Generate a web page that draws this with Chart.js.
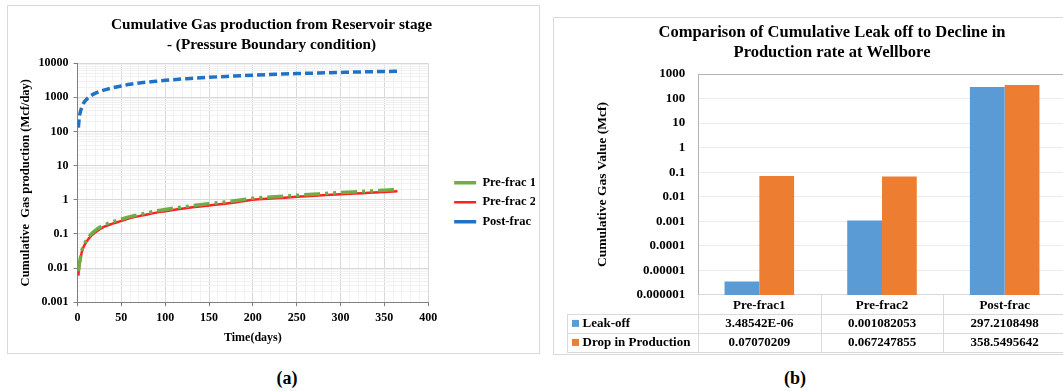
<!DOCTYPE html>
<html>
<head>
<meta charset="utf-8">
<script src="https://cdn.jsdelivr.net/npm/chart.js@4.4.0/dist/chart.umd.min.js"></script>
<style>
    html, body { margin: 0; padding: 0; background: #fff; width: 1063px; height: 391px; overflow: hidden; }
    .panel { position: absolute; box-sizing: border-box; border: 1px solid #d9d9d9; }
    canvas { position: absolute; }
    .caption { position: absolute; top: 367px; width: 100px; text-align: center;
               font: bold 18px "Liberation Serif", serif; line-height: 22px; }
</style>
</head>
<body>
<div class="panel" style="left:7px;top:5px;width:533px;height:349px"></div>
<canvas id="chartA" width="543" height="347" style="left:8px;top:6px"></canvas>
<div class="panel" style="left:553px;top:17px;width:558px;height:338px"></div>
<canvas id="chartB" width="556" height="336" style="left:554px;top:18px"></canvas>
<div class="caption" style="left:237px">(a)</div>
<div class="caption" style="left:745px">(b)</div>

<script>
// (a) cumulative gas production, Mcf/day
const days = [1, 2, 3, 5, 7, 10, 15, 20, 30, 40, 50, 60, 75, 90, 100, 125, 150, 175, 200, 225, 250, 275, 300, 325, 350, 365];
const preFrac1 = [0.008, 0.013, 0.018, 0.033, 0.046, 0.064, 0.095, 0.125, 0.18, 0.225, 0.27, 0.32, 0.39, 0.47, 0.52,
                  0.64, 0.77, 0.9, 1.1, 1.22, 1.35, 1.48, 1.62, 1.75, 1.9, 1.98];
const preFrac2 = [0.006, 0.011, 0.016, 0.03, 0.042, 0.058, 0.085, 0.11, 0.16, 0.2, 0.24, 0.29, 0.35, 0.42, 0.46,
                  0.57, 0.68, 0.8, 1.0, 1.1, 1.22, 1.33, 1.45, 1.56, 1.68, 1.77];
const postFrac = [130, 250, 350, 520, 680, 850, 1100, 1300, 1620, 1900, 2150, 2400, 2700, 2950, 3150,
                  3500, 3850, 4150, 4450, 4700, 4950, 5150, 5350, 5550, 5700, 5800];
const yTickValuesA = [0.001, 0.01, 0.1, 1, 10, 100, 1000, 10000];
const yTickLabelsA = ['0.001', '0.01', '0.1', '1', '10', '100', '1000', '10000'];

// (b) leak off vs drop in production, Mcf
const stages = ['Pre-frac1', 'Pre-frac2', 'Post-frac'];
const leakOff = [3.48542e-6, 0.001082053, 297.2108498];
const dropInProduction = [0.07070209, 0.067247855, 358.5495642];
const yTickValuesB = [1e-6, 1e-5, 1e-4, 1e-3, 0.01, 0.1, 1, 10, 100, 1000];
const yTickLabelsB = ['0.000001', '0.00001', '0.0001', '0.001', '0.01', '0.1', '1', '10', '100', '1000'];

const serif = '"Liberation Serif", "Times New Roman", serif';
Chart.defaults.font.family = serif;
Chart.defaults.font.weight = 'bold';
Chart.defaults.color = '#000';

const toPoints = (ys) => ys.map((y, i) => ({x: days[i], y: y}));

// empty right-hand axis, used only to open a gap before the legend / edge
const spacer = (w) => ({
    position: 'right',
    ticks: {display: false},
    grid: {display: false},
    border: {display: false},
    afterFit: (scale) => { scale.width = w; }
});

new Chart(document.getElementById('chartA'), {
    type: 'line',
    data: {
        datasets: [
            {label: 'Pre-frac 1', data: toPoints(preFrac1), borderColor: '#70AD47', borderWidth: 3.5, borderDash: [16, 5, 3, 5, 3, 5]},
            {label: 'Pre-frac 2', data: toPoints(preFrac2), borderColor: '#FF2222', borderWidth: 2.5},
            {label: 'Post-frac', data: toPoints(postFrac), borderColor: '#2272C3', borderWidth: 3.5, borderDash: [8, 4]}
        ]
    },
    options: {
        responsive: false,
        animation: false,
        elements: {point: {radius: 0}, line: {cubicInterpolationMode: 'monotone'}},
        layout: {padding: {left: 0, right: 16, top: 0, bottom: 4}},
        plugins: {
            tooltip: {enabled: false},
            title: {
                display: true,
                text: ['Cumulative Gas production from Reservoir stage', '- (Pressure Boundary condition)'],
                font: {size: 15.25, lineHeight: 1.333},
                padding: {top: 8.5, bottom: 8}
            },
            legend: {
                position: 'right',
                align: 'start',
                title: {display: true, text: '', padding: {top: 149, bottom: 0}},
                labels: {
                    usePointStyle: true,
                    pointStyle: 'line',
                    pointStyleWidth: 22,
                    padding: 7,
                    font: {size: 12.5},
                    generateLabels: (chart) => Chart.defaults.plugins.legend.labels.generateLabels(chart)
                        .map((item, i) => i === 0 ? {...item, lineDash: []} : item)
                }
            }
        },
        scales: {
            x: {
                type: 'linear',
                min: 0,
                max: 400,
                ticks: {stepSize: 10, autoSkip: false, maxRotation: 0, padding: 5, font: {size: 12},
                        callback: (v) => v % 50 === 0 ? String(v) : ''},
                grid: {
                    tickLength: 4,
                    color: (c) => c.tick && c.tick.value % 50 === 0 ? '#d9d9d9' : '#f1f1f1',
                    tickColor: (c) => c.tick && c.tick.value % 50 === 0 ? '#808080' : 'rgba(0,0,0,0)'
                },
                border: {color: '#808080'},
                title: {display: true, text: 'Time(days)', font: {size: 12}, padding: {top: 0, bottom: 4}}
            },
            y: {
                type: 'logarithmic',
                min: 0.001,
                max: 10000,
                afterBuildTicks: (scale) => {
                    const ticks = [];
                    yTickValuesA.forEach((v, i) => {
                        ticks.push({value: v});
                        if (i < yTickValuesA.length - 1) {
                            for (let m = 2; m <= 9; m++) ticks.push({value: v * m});
                        }
                    });
                    scale.ticks = ticks;
                },
                ticks: {autoSkip: false, padding: 5, font: {size: 12},
                        callback: (v) => { const i = yTickValuesA.indexOf(v); return i >= 0 ? yTickLabelsA[i] : ''; }},
                grid: {
                    tickLength: 4,
                    color: (c) => c.tick && yTickValuesA.includes(c.tick.value) ? '#d9d9d9' : '#f1f1f1',
                    tickColor: (c) => c.tick && yTickValuesA.includes(c.tick.value) ? '#808080' : 'rgba(0,0,0,0)'
                },
                border: {color: '#808080'},
                title: {display: true, text: 'Cumulative  Gas production (Mcf/day)', font: {size: 12.5}, padding: {top: 10, bottom: 0.5}}
            },
            yRight: spacer(19)
        }
    }
});

// Excel-like "General" number format for the data table
function fmt(v) {
    if (v < 1e-4) {
        const [m, e] = v.toExponential(5).split('e');
        const exp = Math.abs(+e);
        return m + 'E' + (+e < 0 ? '-' : '+') + (exp < 10 ? '0' + exp : exp);
    }
    const intDigits = Math.max(1, Math.floor(Math.log10(v)) + 1);
    return String(parseFloat(v.toFixed(10 - intDigits)));
}

const dataTable = {
    id: 'dataTable',
    afterDraw(chart) {
        const {ctx, chartArea: area, scales: {x}} = chart;
        const rowH = 19;
        const colW = x.getPixelForValue(1) - x.getPixelForValue(0);
        const left = 13;
        const right = area.left + colW * stages.length;
        const top = area.bottom;

        ctx.save();
        ctx.strokeStyle = '#d9d9d9';
        ctx.lineWidth = 1;
        ctx.beginPath();
        for (let r = 1; r <= 3; r++) {
            const y = Math.round(top + r * rowH) + 0.5;
            ctx.moveTo(left, y);
            ctx.lineTo(right, y);
        }
        ctx.moveTo(left + 0.5, top + rowH);
        ctx.lineTo(left + 0.5, top + 3 * rowH);
        for (let i = 0; i <= stages.length; i++) {
            const px = Math.round(area.left + colW * i) + 0.5;
            ctx.moveTo(px, top);
            ctx.lineTo(px, top + 3 * rowH);
        }
        ctx.stroke();

        ctx.font = 'bold 13px ' + serif;
        ctx.textBaseline = 'middle';
        chart.data.datasets.forEach((ds, r) => {
            const cy = top + (r + 1) * rowH + rowH / 2;
            ctx.fillStyle = ds.backgroundColor;
            ctx.fillRect(left + 5, cy - 3.5, 7, 7);
            ctx.fillStyle = '#000';
            ctx.textAlign = 'left';
            ctx.fillText(ds.label, left + 15.5, cy);
            ctx.textAlign = 'center';
            ds.data.forEach((v, i) => ctx.fillText(fmt(v), x.getPixelForValue(i), cy));
        });
        ctx.restore();
    }
};

new Chart(document.getElementById('chartB'), {
    type: 'bar',
    data: {
        labels: stages,
        datasets: [
            {label: 'Leak-off', data: leakOff, backgroundColor: '#5B9BD5'},
            {label: 'Drop in Production', data: dropInProduction, backgroundColor: '#ED7D31'}
        ]
    },
    options: {
        responsive: false,
        animation: false,
        datasets: {bar: {categoryPercentage: 0.567, barPercentage: 1}},
        layout: {padding: {left: 10, right: 10, top: 0, bottom: 37.5}},
        plugins: {
            legend: {display: false},
            tooltip: {enabled: false},
            title: {
                display: true,
                text: ['Comparison of Cumulative Leak off to Decline in', 'Production rate at Wellbore'],
                font: {size: 16.5, lineHeight: 1.22},
                padding: {top: 5, bottom: 10.8}
            }
        },
        scales: {
            x: {
                grid: {display: false, drawTicks: false},
                border: {color: '#d9d9d9'},
                ticks: {padding: 3, font: {size: 13}}
            },
            y: {
                type: 'logarithmic',
                min: 1e-6,
                max: 1000,
                afterBuildTicks: (scale) => { scale.ticks = yTickValuesB.map(v => ({value: v})); },
                ticks: {autoSkip: false, padding: 12.7, font: {size: 13},
                        callback: (v) => yTickLabelsB[yTickValuesB.indexOf(v)]},
                grid: {drawTicks: false, color: (c) => c.tick && c.tick.value === 1000 ? '#b3b3b3' : '#ececec'},
                border: {color: '#b3b3b3'},
                title: {display: true, text: 'Cumulative Gas Value (Mcf)', font: {size: 13.5}, padding: {top: 30, bottom: 16}}
            },
            yRight: spacer(34)
        }
    },
    plugins: [dataTable]
});
</script>
</body>
</html>
